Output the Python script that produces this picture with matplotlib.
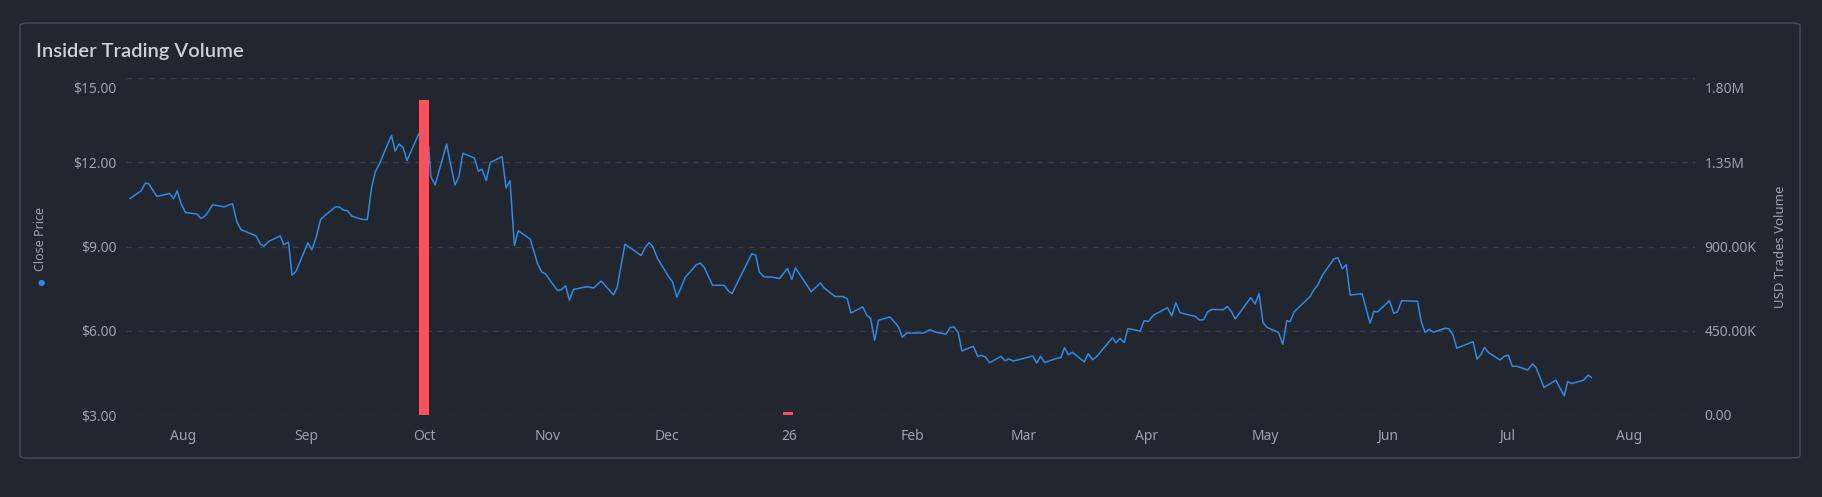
import numpy as np
import matplotlib
matplotlib.use("Agg")
import matplotlib.pyplot as plt
import matplotlib.dates as mdates
from matplotlib.patches import FancyBboxPatch
from matplotlib.transforms import ScaledTranslation
from matplotlib.ticker import FuncFormatter

# ---------------- data ----------------
BASE_DATE = np.datetime64("2025-08-01")

# trading days, expressed as days since 2025-08-01
price_days = [
    -13.4, -10.6, -9.5, -8.7, -6.6, -3.4, -2.4, -1.5, -0.5, 0.6,
    3.5, 4.5, 5.6, 6.5, 7.5, 10.4, 11.7, 12.5, 13.5, 14.6,
    18.4, 19.5, 20.4, 21.6, 24.5, 25.4, 26.6, 27.5, 28.5, 31.5,
    32.5, 33.6, 34.7, 35.7, 38.4, 39.4, 40.5, 41.4, 42.6, 45.3,
    46.5, 47.6, 48.5, 49.5, 52.6, 53.5, 54.5, 55.5, 56.5, 59.5,
    62.0, 62.5, 63.6, 66.5, 67.6, 68.6, 69.6, 70.6, 73.5, 74.5,
    75.4, 76.5, 77.5, 80.5, 81.5, 82.5, 83.6, 84.6, 87.6, 89.5,
    90.5, 91.4, 94.5, 95.5, 96.5, 97.5, 98.5, 101.5, 102.5, 103.6,
    105.5, 108.6, 109.5, 111.5, 115.6,
    116.6, 117.6, 118.5, 119.7, 122.5, 123.5, 124.6, 125.6, 126.7, 129.5,
    130.5, 131.5, 133.6, 136.5, 137.6, 138.5, 143.5, 144.5, 145.4, 146.6,
    148.6, 150.5, 152.5, 153.6, 154.5, 158.5, 160.8, 161.8, 164.5, 166.5,
    167.6, 168.5, 171.5, 172.5, 173.5, 174.5, 175.5, 178.4, 180.5, 181.5,
    182.6, 186.9, 188.5, 189.8, 192.5, 193.5, 194.5, 195.6, 196.5, 199.4,
    200.5, 201.5, 202.5, 203.5, 206.4, 207.4, 208.4, 209.5, 214.4, 215.4,
    216.4, 217.4, 220.5, 221.5, 222.4, 223.4, 224.4, 227.4, 228.4, 229.5,
    230.4, 234.5, 235.4, 236.4, 237.5, 238.4, 241.5, 242.5, 243.6,
    244.9, 248.4, 249.5, 250.5, 251.6, 255.4, 256.5, 257.5, 258.5, 259.6,
    262.5, 263.5, 264.5, 265.5, 269.4, 270.5, 271.5, 272.5, 273.5, 276.4,
    277.5, 278.5, 279.3, 280.4, 284.4, 285.4, 286.3, 287.5, 290.4, 291.4,
    292.5, 293.5, 294.5, 297.5, 299.5, 300.5, 301.4, 304.4, 305.5, 306.4,
    307.5, 311.5, 312.4, 313.4, 314.4, 315.5, 318.5, 319.4, 320.4, 321.4,
    325.5, 326.5, 327.5, 328.4, 329.4, 332.3, 333.4, 334.4, 335.4, 336.5,
    339.3, 340.5, 341.4, 343.4, 346.4, 348.5, 349.4, 350.4, 353.4, 354.5,
    355.3,
]

close_price = [
    10.71, 10.98, 11.26, 11.24, 10.78, 10.89, 10.70, 10.98, 10.53, 10.21,
    10.16, 10.00, 10.09, 10.27, 10.49, 10.41, 10.49, 10.52, 9.91, 9.60,
    9.38, 9.09, 9.01, 9.18, 9.38, 9.07, 9.15, 7.98, 8.12, 9.13,
    8.88, 9.34, 9.96, 10.09, 10.41, 10.41, 10.29, 10.28, 10.08, 9.96,
    9.96, 11.12, 11.66, 11.93, 12.96, 12.40, 12.65, 12.53, 12.06, 13.02,
    12.55, 11.50, 11.19, 12.65, 11.86, 11.19, 11.48, 12.32, 12.15, 11.68,
    11.75, 11.35, 11.99, 12.20, 11.09, 11.34, 9.04, 9.56, 9.26, 8.37,
    8.09, 8.03, 7.43, 7.47, 7.60, 7.09, 7.47, 7.56, 7.56, 7.52,
    7.77, 7.28, 7.53, 9.08, 8.68,
    8.96, 9.14, 9.01, 8.58, 7.93, 7.74, 7.20, 7.52, 7.90, 8.35,
    8.41, 8.26, 7.62, 7.62, 7.42, 7.32, 8.74, 8.69, 8.09, 7.92,
    7.91, 7.86, 8.22, 7.83, 8.24, 7.39, 7.70, 7.52, 7.22, 7.22,
    7.14, 6.63, 6.85, 6.56, 6.43, 5.66, 6.38, 6.49, 6.14, 5.77,
    5.92, 5.92, 6.04, 5.95, 5.88, 6.11, 6.14, 5.94, 5.28, 5.45,
    5.09, 5.12, 5.06, 4.86, 5.09, 4.93, 5.00, 4.92, 5.10, 4.85,
    5.09, 4.87, 5.02, 5.04, 5.40, 5.14, 5.23, 4.89, 5.18, 4.97,
    5.06, 5.75, 5.57, 5.73, 5.58, 6.08, 5.99, 6.36, 6.33,
    6.56, 6.82, 6.53, 7.00, 6.64, 6.51, 6.38, 6.39, 6.67, 6.76,
    6.75, 6.87, 6.68, 6.42, 7.18, 6.95, 7.32, 6.29, 6.12, 5.94,
    5.51, 6.36, 6.32, 6.68, 7.22, 7.47, 7.62, 7.98, 8.56, 8.60,
    8.21, 8.35, 7.27, 7.32, 6.27, 6.69, 6.67, 7.07, 6.62, 6.67,
    7.07, 7.05, 6.33, 5.94, 6.05, 5.95, 6.09, 6.07, 5.86, 5.38,
    5.61, 4.99, 5.15, 5.41, 5.22, 4.96, 5.09, 5.13, 4.73, 4.74,
    4.60, 4.82, 4.69, 3.98, 4.24, 3.68, 4.19, 4.12, 4.24, 4.42,
    4.34,
]

# insider trades (USD volume)
volume_days = [60.8, 152.7]
usd_volume = [1_683_000, 16_000]

price_ticks = [3, 6, 9, 12, 15]
price_tick_labels = ["$3.00", "$6.00", "$9.00", "$12.00", "$15.00"]
volume_ticks = [0, 450_000, 900_000, 1_350_000, 1_800_000]
volume_tick_labels = ["0.00", "450.00K", "900.00K", "1.35M", "1.80M"]

x_range_days = [-14.4, 381.5]

title = "Insider Trading Volume"
left_label = "Close Price"
right_label = "USD Trades Volume"


def to_dates(days):
    return BASE_DATE + (np.asarray(days) * 86400).round().astype("timedelta64[s]")


# ---------------- style ----------------
W, H, DPI = 1822, 497, 100
BG = "#22262f"
CARD_EDGE = "#474c59"
GRID = "#3a3f4b"
TICK = "#9ca2ae"
TITLE_C = "#cdd0d8"
LINE_C = "#2e8ae6"
BAR_C = "#ff4f5a"
FONT = ["Noto Sans", "DejaVu Sans"]

plt.rcParams["font.family"] = FONT

fig = plt.figure(figsize=(W / DPI, H / DPI), dpi=DPI, facecolor=BG)

# card
card = FancyBboxPatch((20 / W, 1 - 458 / H), (1800 - 20) / W, (458 - 23) / H,
                      boxstyle="round,pad=0,rounding_size=0.005",
                      transform=fig.transFigure, facecolor="none",
                      edgecolor=CARD_EDGE, linewidth=1.0, zorder=-5)
fig.patches.append(card)

L, R, T, B = 126, 1695, 78, 415
ax = fig.add_axes([L / W, 1 - B / H, (R - L) / W, (B - T) / H])
ax.set_facecolor("none")
ax2 = ax.twinx()
ax2.set_facecolor("none")

for a in (ax, ax2):
    for s in a.spines.values():
        s.set_visible(False)

# price line
ax.plot(to_dates(price_days), close_price, color=LINE_C, lw=1.1, zorder=3)

# volume bars
ax2.bar(to_dates(volume_days), usd_volume, width=2.5, color=BAR_C,
        zorder=4, linewidth=0)

# limits
ax.set_xlim(to_dates(x_range_days)[0], to_dates(x_range_days)[1])
ax.set_ylim(price_ticks[0], price_ticks[-1])
ax2.set_ylim(volume_ticks[0], volume_ticks[-1])

# grid
ax.set_yticks(price_ticks, labels=price_tick_labels)
ax2.set_yticks(volume_ticks, labels=volume_tick_labels)
ax.yaxis.grid(True, color=GRID, linestyle=(0, (4, 4)), linewidth=1.0)
ax.set_axisbelow(True)

# ticks
ax.tick_params(axis="y", length=0, pad=7, labelsize=10, labelcolor=TICK)
ax2.tick_params(axis="y", length=0, pad=7, labelsize=10, labelcolor=TICK)

ax.xaxis.set_major_locator(mdates.MonthLocator())


def month_fmt(x, pos):
    d = mdates.num2date(x)
    return d.strftime("%y") if d.month == 1 else d.strftime("%b")


ax.xaxis.set_major_formatter(FuncFormatter(month_fmt))
ax.tick_params(axis="x", length=0, pad=10, labelsize=10, labelcolor=TICK)

# top tick labels sit slightly below their gridline
shift = ScaledTranslation(0, -10 / DPI, fig.dpi_scale_trans)
for lab in (ax.get_yticklabels()[-1], ax2.get_yticklabels()[-1]):
    lab.set_transform(lab.get_transform() + shift)

# title
fig.text(36 / W, 1 - 51 / H, title, fontsize=14.5, fontweight="semibold",
         family=["Lato", "Inter", "DejaVu Sans"],
         color=TITLE_C, ha="left", va="center")

# axis labels
fig.text(41 / W, 1 - 239 / H, left_label, rotation=90, fontsize=9,
         color=TICK, ha="center", va="center")
fig.text(41 / W, 1 - 283 / H, "\u25CF", fontsize=6, color=LINE_C,
         ha="center", va="center")
fig.text(1781 / W, 1 - 247 / H, right_label, rotation=90, fontsize=9.5,
         color=TICK, ha="center", va="center")

fig.savefig("out.png", dpi=DPI, facecolor=BG)
